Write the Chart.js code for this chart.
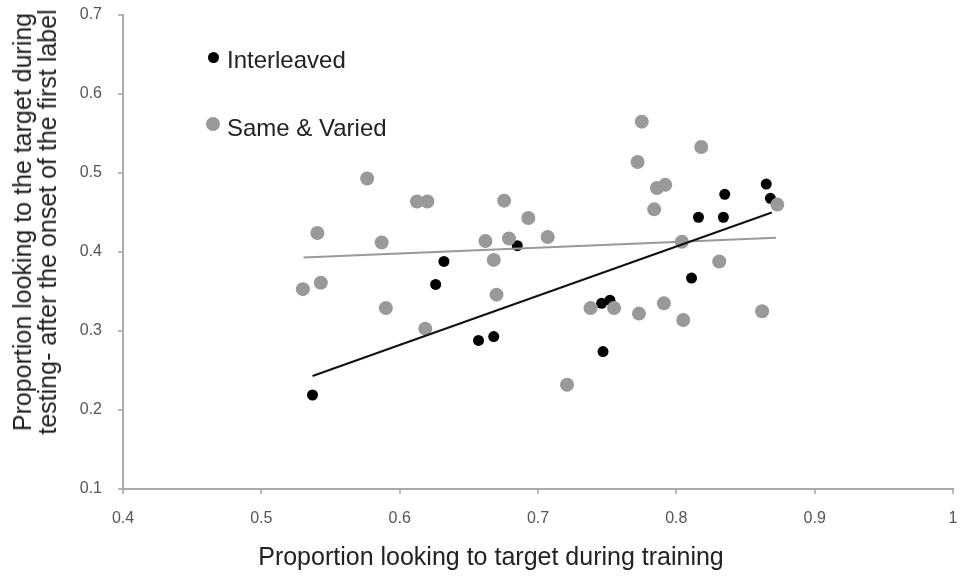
<!DOCTYPE html>
<html>
<head>
<meta charset="utf-8">
<script src="https://cdn.jsdelivr.net/npm/chart.js@4/dist/chart.umd.min.js"></script>
<style>
  html, body { margin: 0; padding: 0; background: #fff; }
  #wrap { position: relative; width: 960px; height: 579px; }
  .txt { position: absolute; font-family: "Liberation Sans", Arial, sans-serif; color: #222; white-space: nowrap; }
  .leg { font-size: 24px; line-height: 24px; }
  .dot { position: absolute; border-radius: 50%; }
  #xTitle { left: 491px; top: 544px; font-size: 25px; line-height: 25px; transform: translateX(-50%); }
  #yTitle { left: 35px; top: 222px; font-size: 25px; line-height: 25px; text-align: center;
            transform: translate(-50%, -50%) rotate(-90deg); }
</style>
</head>
<body>
<div id="wrap">
  <canvas id="myChart" width="960" height="579"></canvas>
  <div class="dot" style="left:208px;top:52px;width:11px;height:11px;background:#000"></div>
  <div class="txt leg" style="left:227px;top:48px">Interleaved</div>
  <div class="dot" style="left:206px;top:117px;width:14px;height:14px;background:#999"></div>
  <div class="txt leg" style="left:227px;top:116px">Same &amp; Varied</div>
  <div class="txt" id="xTitle">Proportion looking to target during training</div>
  <div class="txt" id="yTitle">Proportion looking to the target during<br>testing- after the onset of the first label</div>
</div>
<script>
'use strict';

// Interleaved group (black)
var interleavedX = [0.685, 0.632, 0.626, 0.657, 0.668, 0.537, 0.746, 0.752, 0.747, 0.865, 0.835, 0.868, 0.816, 0.834, 0.811];
var interleavedY = [0.408, 0.388, 0.359, 0.288, 0.293, 0.219, 0.335, 0.339, 0.274, 0.486, 0.473, 0.468, 0.444, 0.444, 0.367];

// Same & Varied group (gray)
var sameX = [0.5765, 0.6125, 0.620, 0.6755, 0.693, 0.5405, 0.587, 0.662, 0.679, 0.707, 0.668, 0.530, 0.543, 0.670, 0.590, 0.6185,
             0.721, 0.738, 0.775, 0.818, 0.772, 0.786, 0.792, 0.784, 0.873, 0.804, 0.831, 0.755, 0.773, 0.791, 0.805, 0.862];
var sameY = [0.493, 0.464, 0.464, 0.465, 0.443, 0.424, 0.412, 0.414, 0.417, 0.419, 0.390, 0.353, 0.361, 0.346, 0.329, 0.303,
             0.232, 0.329, 0.565, 0.533, 0.514, 0.481, 0.485, 0.454, 0.460, 0.413, 0.388, 0.329, 0.322, 0.335, 0.314, 0.325];

// trend line end points
var interleavedTrendX = [0.537, 0.869];
var interleavedTrendY = [0.243, 0.450];
var sameTrendX = [0.5305, 0.872];
var sameTrendY = [0.393, 0.418];

var xTicks = [0.4, 0.5, 0.6, 0.7, 0.8, 0.9, 1];
var yTicks = [0.1, 0.2, 0.3, 0.4, 0.5, 0.6, 0.7];

function pts(xs, ys) {
    return xs.map(function (x, i) { return { x: x, y: ys[i] }; });
}

var font = "'Liberation Sans', Arial, sans-serif";

var ctx = document.getElementById('myChart').getContext('2d');
var chart = new Chart(ctx, {
    type: 'scatter',
    data: {
        datasets: [{
            label: 'Interleaved trend',
            type: 'line',
            data: pts(interleavedTrendX, interleavedTrendY),
            borderColor: '#111',
            borderWidth: 2,
            pointRadius: 0,
            order: 0
        }, {
            label: 'Same & Varied trend',
            type: 'line',
            data: pts(sameTrendX, sameTrendY),
            borderColor: '#999',
            borderWidth: 2,
            pointRadius: 0,
            order: 0
        }, {
            label: 'Same & Varied',
            data: pts(sameX, sameY),
            backgroundColor: '#999',
            borderWidth: 0,
            pointRadius: 7,
            order: 1
        }, {
            label: 'Interleaved',
            data: pts(interleavedX, interleavedY),
            backgroundColor: '#000',
            borderWidth: 0,
            pointRadius: 5.5,
            order: 2
        }]
    },
    options: {
        responsive: false,
        animation: false,
        layout: { padding: { top: 15, right: 3, left: 0, bottom: 0 } },
        plugins: { legend: { display: false }, tooltip: { enabled: false } },
        scales: {
            x: {
                type: 'linear',
                min: 0.4,
                max: 1,
                afterBuildTicks: function (s) { s.ticks = xTicks.map(function (v) { return { value: v }; }); },
                afterFit: function (s) { s.height = 90; s.paddingLeft = 0; s.paddingRight = 0; },
                grid: { drawOnChartArea: false, drawTicks: true, tickLength: 5, color: '#bbb', lineWidth: 2 },
                border: { color: '#aaa', width: 2 },
                ticks: {
                    padding: 15,
                    color: '#555',
                    font: { family: font, size: 16 },
                    callback: function (v) { return String(Math.round(v * 10) / 10); }
                }
            },
            y: {
                type: 'linear',
                min: 0.1,
                max: 0.7,
                afterBuildTicks: function (s) { s.ticks = yTicks.map(function (v) { return { value: v }; }); },
                afterFit: function (s) { s.width = 123; s.paddingTop = 0; s.paddingBottom = 0; },
                grid: { drawOnChartArea: false, drawTicks: true, tickLength: 5, color: '#bbb', lineWidth: 2 },
                border: { color: '#aaa', width: 2 },
                ticks: {
                    padding: 16,
                    color: '#555',
                    font: { family: font, size: 16 },
                    callback: function (v) { return String(Math.round(v * 10) / 10); }
                }
            }
        }
    }
});
</script>
</body>
</html>
